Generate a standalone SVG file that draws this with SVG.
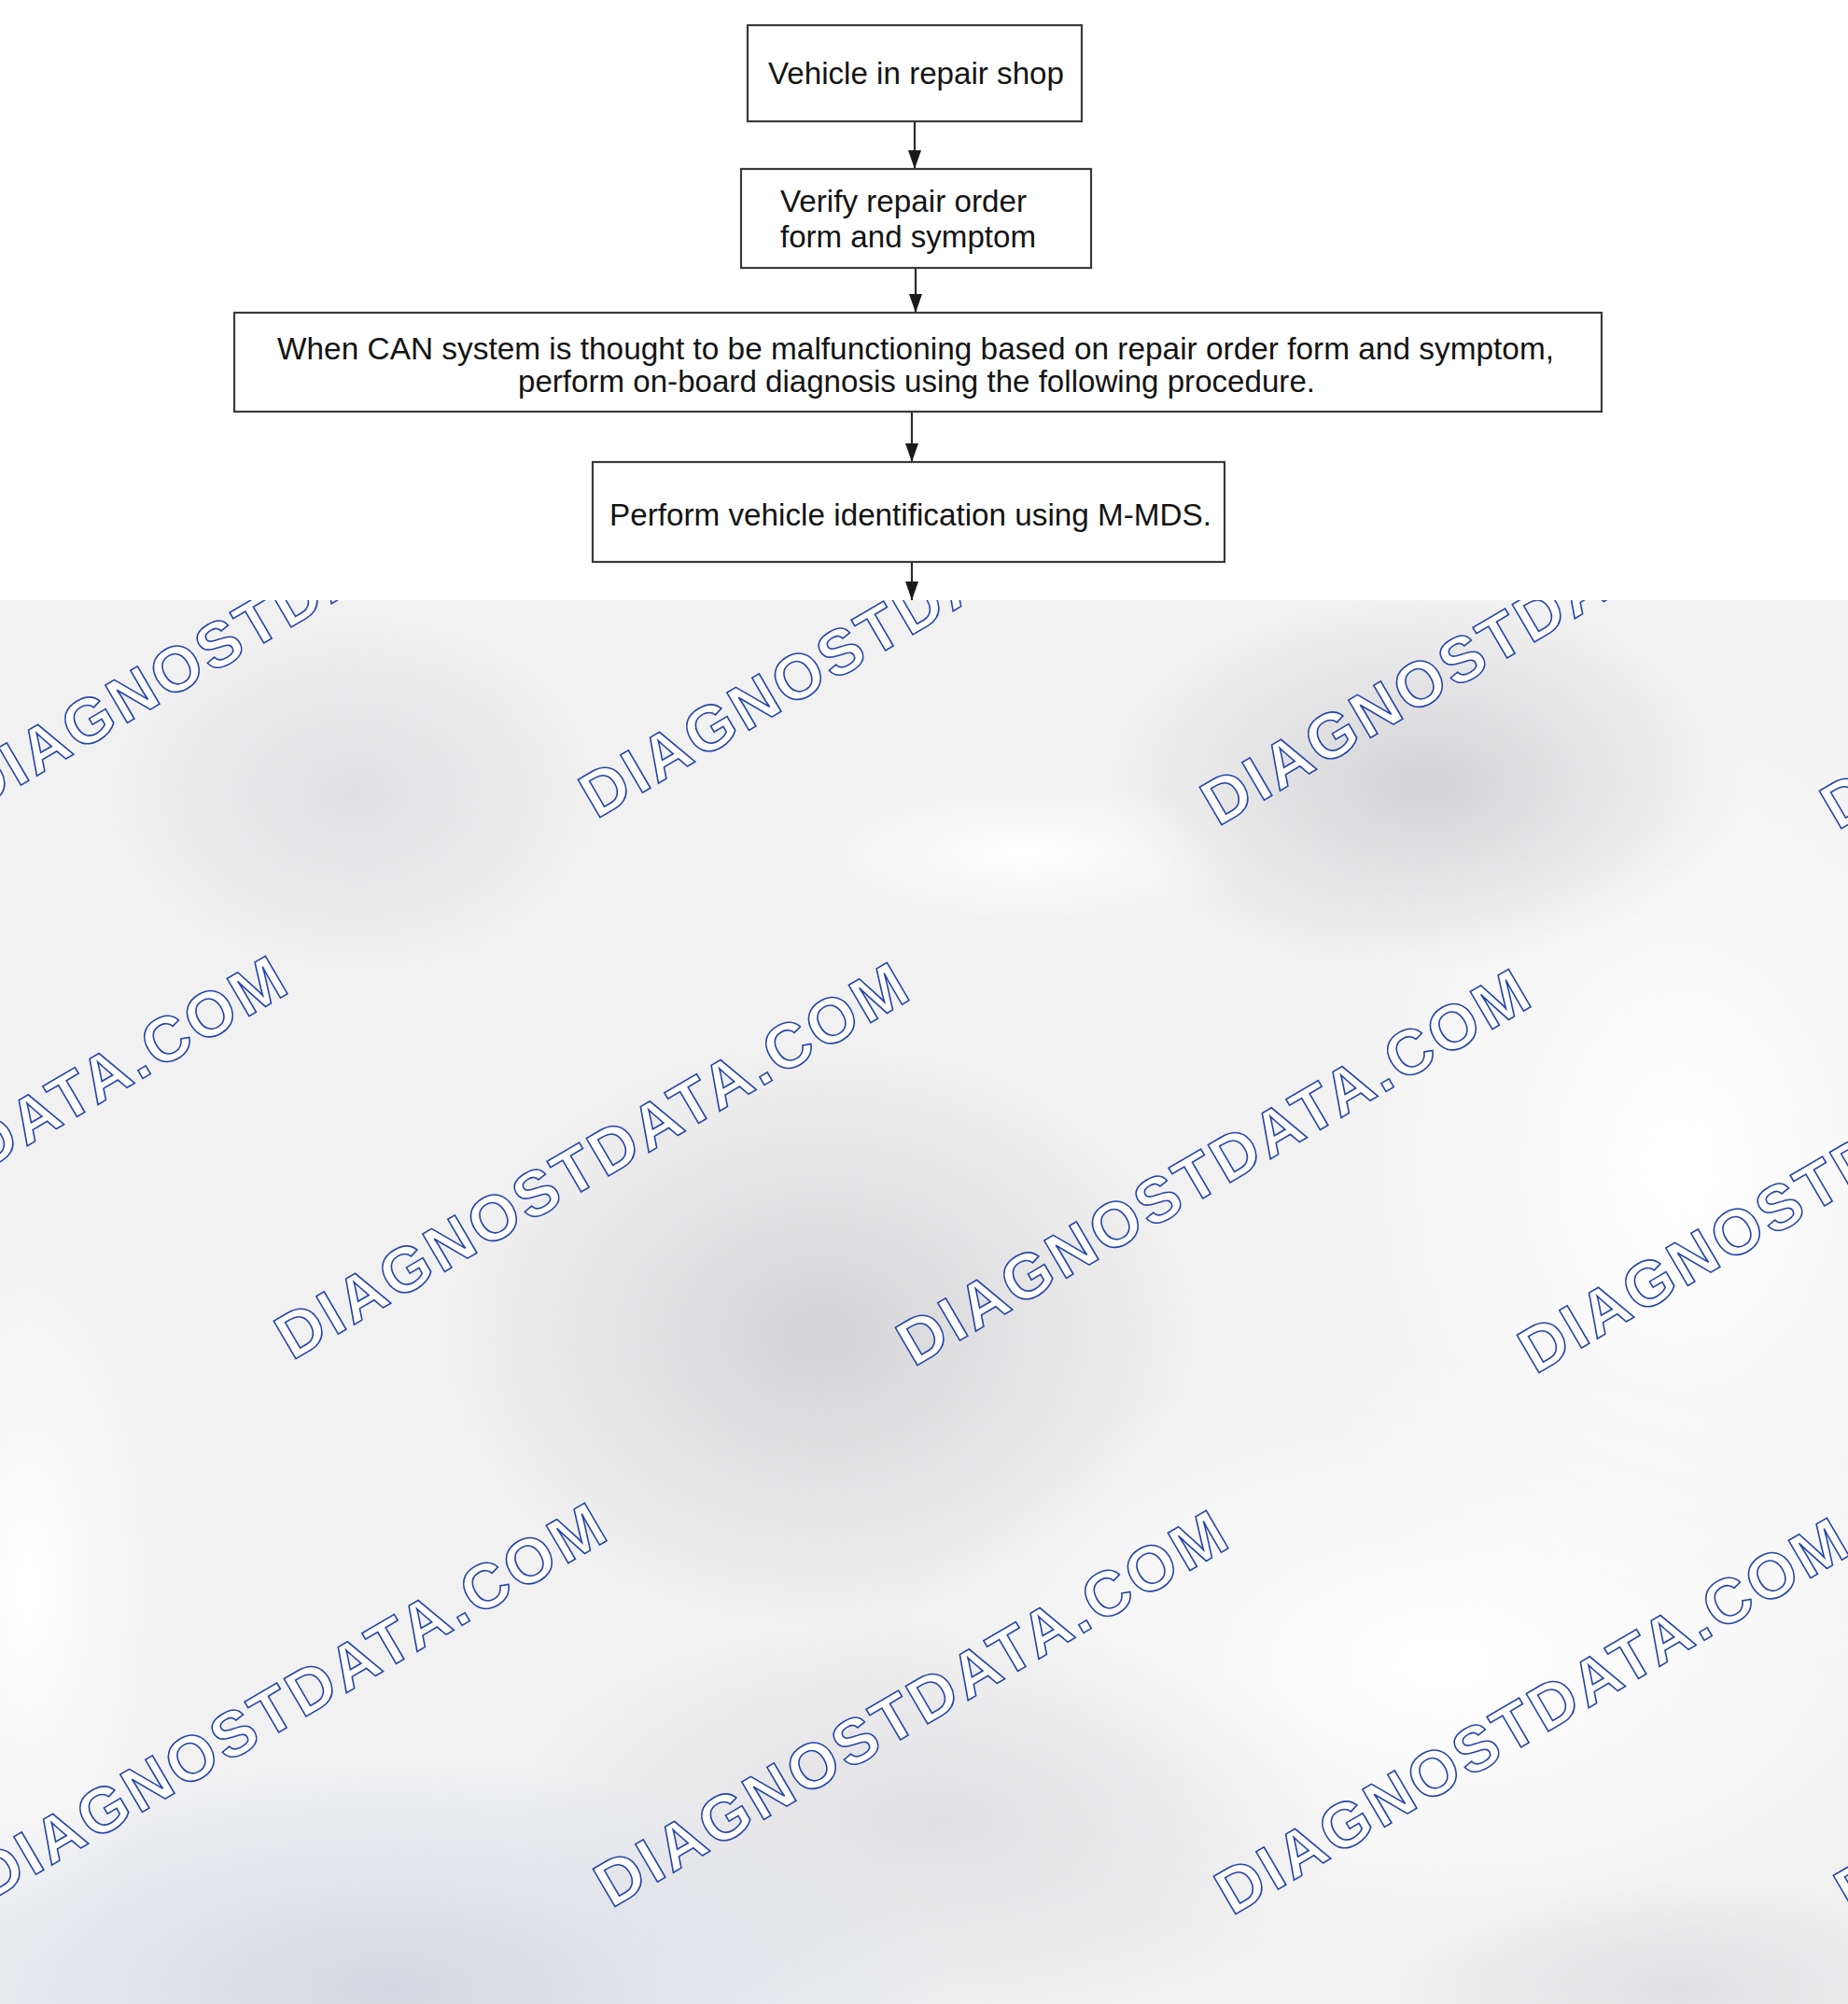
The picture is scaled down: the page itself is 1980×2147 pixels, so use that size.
<svg xmlns="http://www.w3.org/2000/svg" width="1980" height="2147" viewBox="0 0 1980 2147">
<defs>
<style>
.box{fill:#ffffff;stroke:#3a3a3a;stroke-width:2.2}
.lbl{font-family:"Liberation Sans",Arial,sans-serif;font-size:33px;fill:#141414}
.wm{font-family:"Liberation Sans",Arial,sans-serif;font-weight:bold;font-size:68px;fill:#ffffff;stroke:#2445a8;stroke-width:1.6}
.conn{stroke:#2a2a2a;stroke-width:2.2;fill:none}
</style>
<marker id="ah" viewBox="0 0 20 14" refX="20" refY="7" markerWidth="20" markerHeight="14" markerUnits="userSpaceOnUse" orient="auto">
<path d="M0,0 L20,7 L0,14 Z" fill="#1a1a1a"/>
</marker>
<radialGradient id="gGray"><stop offset="0" stop-color="#d4d4d6" stop-opacity="1"/><stop offset="1" stop-color="#d4d4d6" stop-opacity="0"/></radialGradient>
<radialGradient id="gLight"><stop offset="0" stop-color="#e0e0e2" stop-opacity="1"/><stop offset="1" stop-color="#e0e0e2" stop-opacity="0"/></radialGradient>
<radialGradient id="gBlue"><stop offset="0" stop-color="#d3d8e4" stop-opacity="1"/><stop offset="1" stop-color="#d3d8e4" stop-opacity="0"/></radialGradient>
<radialGradient id="gWhite"><stop offset="0" stop-color="#ffffff" stop-opacity="1"/><stop offset="1" stop-color="#ffffff" stop-opacity="0"/></radialGradient>
</defs>

<g id="background">
<rect x="0" y="643" width="1980" height="1504" fill="#f1f1f2"/>
<ellipse cx="1800" cy="1250" rx="420" ry="600" fill="url(#gWhite)"/>
<ellipse cx="1550" cy="1780" rx="600" ry="330" fill="url(#gWhite)"/>
<ellipse cx="1100" cy="915" rx="260" ry="80" fill="url(#gWhite)"/>
<ellipse cx="30" cy="1700" rx="160" ry="420" fill="url(#gWhite)"/>
<ellipse cx="1530" cy="840" rx="340" ry="200" fill="url(#gGray)"/>
<ellipse cx="880" cy="1430" rx="400" ry="310" fill="url(#gGray)"/>
<ellipse cx="380" cy="850" rx="260" ry="190" fill="url(#gLight)"/>
<ellipse cx="1000" cy="1950" rx="450" ry="220" fill="url(#gLight)"/>
<ellipse cx="420" cy="2130" rx="600" ry="240" fill="url(#gBlue)"/>
<ellipse cx="1800" cy="2130" rx="300" ry="120" fill="url(#gLight)"/>
</g>

<g id="watermarks">
<text class="wm" transform="translate(-27,870) rotate(-30.3)" textLength="770" lengthAdjust="spacing">DIAGNOSTDATA.COM</text>
<text class="wm" transform="translate(639,878) rotate(-30.3)" textLength="770" lengthAdjust="spacing">DIAGNOSTDATA.COM</text>
<text class="wm" transform="translate(1305,886) rotate(-30.3)" textLength="770" lengthAdjust="spacing">DIAGNOSTDATA.COM</text>
<text class="wm" transform="translate(1969,890) rotate(-30.3)" textLength="770" lengthAdjust="spacing">DIAGNOSTDATA.COM</text>
<text class="wm" transform="translate(-353,1451) rotate(-30.3)" textLength="770" lengthAdjust="spacing">DIAGNOSTDATA.COM</text>
<text class="wm" transform="translate(313,1458) rotate(-30.3)" textLength="770" lengthAdjust="spacing">DIAGNOSTDATA.COM</text>
<text class="wm" transform="translate(979,1465) rotate(-30.3)" textLength="770" lengthAdjust="spacing">DIAGNOSTDATA.COM</text>
<text class="wm" transform="translate(1645,1473) rotate(-30.3)" textLength="770" lengthAdjust="spacing">DIAGNOSTDATA.COM</text>
<text class="wm" transform="translate(-11,2037) rotate(-30.3)" textLength="770" lengthAdjust="spacing">DIAGNOSTDATA.COM</text>
<text class="wm" transform="translate(655,2045) rotate(-30.3)" textLength="770" lengthAdjust="spacing">DIAGNOSTDATA.COM</text>
<text class="wm" transform="translate(1320,2053) rotate(-30.3)" textLength="770" lengthAdjust="spacing">DIAGNOSTDATA.COM</text>
<text class="wm" transform="translate(1984,2052) rotate(-30.3)" textLength="770" lengthAdjust="spacing">DIAGNOSTDATA.COM</text>
</g>

<rect id="panel" x="0" y="0" width="1980" height="643" fill="#ffffff"/>

<g id="connectors">
<line class="conn" x1="980" y1="130" x2="980" y2="181" marker-end="url(#ah)"/>
<line class="conn" x1="981" y1="287" x2="981" y2="335" marker-end="url(#ah)"/>
<line class="conn" x1="977" y1="441" x2="977" y2="495" marker-end="url(#ah)"/>
<line class="conn" x1="977" y1="602" x2="977" y2="643" marker-end="url(#ah)"/>
</g>

<g id="node-vehicle">
<rect class="box" x="801" y="27" width="358" height="103"/>
<text class="lbl" x="823" y="90" textLength="317" lengthAdjust="spacingAndGlyphs">Vehicle in repair shop</text>
</g>

<g id="node-verify">
<rect class="box" x="794" y="181" width="375" height="106"/>
<text class="lbl" x="836" y="227" textLength="264" lengthAdjust="spacingAndGlyphs">Verify repair order</text>
<text class="lbl" x="836" y="265" textLength="274" lengthAdjust="spacingAndGlyphs">form and symptom</text>
</g>

<g id="node-can">
<rect class="box" x="251" y="335" width="1465" height="106"/>
<text class="lbl" x="297" y="385" textLength="1368" lengthAdjust="spacingAndGlyphs">When CAN system is thought to be malfunctioning based on repair order form and symptom,</text>
<text class="lbl" x="555" y="420" textLength="854" lengthAdjust="spacingAndGlyphs">perform on-board diagnosis using the following procedure.</text>
</g>

<g id="node-identify">
<rect class="box" x="635" y="495" width="677" height="107"/>
<text class="lbl" x="653" y="563" textLength="645" lengthAdjust="spacingAndGlyphs">Perform vehicle identification using M-MDS.</text>
</g>
</svg>
